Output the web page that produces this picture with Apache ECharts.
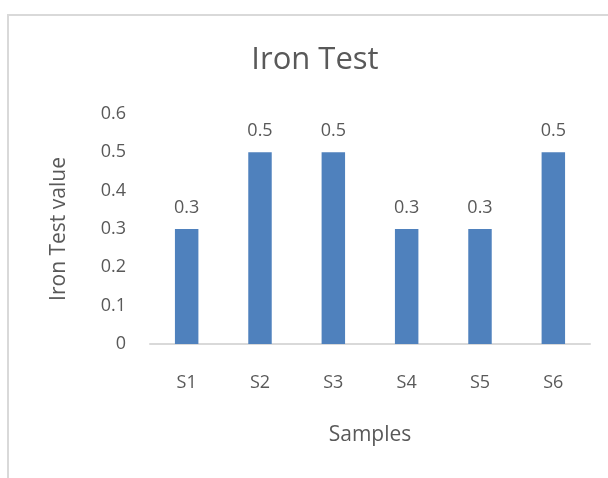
<!DOCTYPE html>
<html>
<head>
<meta charset="utf-8">
<script src="https://cdn.jsdelivr.net/npm/echarts@6/dist/echarts.min.js"></script>
<style>
  html, body { margin: 0; padding: 0; background: #fff; }
  #main { width: 608px; height: 478px; position: relative; }
  #frame { position: absolute; left: 7px; top: 14px; width: 620px; height: 480px;
           border: 2px solid #d9d9d9; box-sizing: border-box; }
</style>
</head>
<body>
<div id="frame"></div>
<div id="main"></div>
<script>
  const chartTitle = "Iron Test";
  const categories = ["S1", "S2", "S3", "S4", "S5", "S6"];
  const ironValues = [0.3, 0.5, 0.5, 0.3, 0.3, 0.5];
  const xName = "Samples";
  const yName = "Iron Test value";

  const font = "'Open Sans', sans-serif";
  const grey = "#595959";

  let chart = echarts.init(document.getElementById("main"));
  chart.setOption({
    animation: false,
    title: {
      text: chartTitle,
      left: 310,
      textAlign: "center",
      top: 40,
      textStyle: { fontFamily: font, fontSize: 31, fontWeight: "normal", color: grey },
    },
    grid: { left: 150, right: 18, top: 114, bottom: 134 },
    xAxis: {
      type: "category",
      data: categories,
      name: xName,
      nameLocation: "middle",
      nameGap: 81,
      nameTextStyle: { fontFamily: font, fontSize: 21, color: grey },
      axisLine: { lineStyle: { color: "#d9d9d9", width: 2 } },
      axisTick: { show: false },
      axisLabel: { margin: 30, fontFamily: font, fontSize: 18, color: grey },
    },
    yAxis: {
      type: "value",
      min: 0,
      max: 0.6,
      interval: 0.1,
      name: yName,
      nameLocation: "middle",
      nameGap: 80,
      nameTextStyle: { fontFamily: font, fontSize: 21, color: grey },
      axisLine: { show: false },
      axisTick: { show: false },
      splitLine: { show: false },
      axisLabel: { margin: 24, fontFamily: font, fontSize: 18, color: grey },
    },
    series: [
      {
        type: "bar",
        data: ironValues,
        barWidth: "32%",
        itemStyle: { color: "#4f81bd" },
        label: {
          show: true,
          position: "top",
          distance: 12,
          fontFamily: font,
          fontSize: 18,
          color: grey,
        },
      },
    ],
  });
</script>
</body>
</html>
